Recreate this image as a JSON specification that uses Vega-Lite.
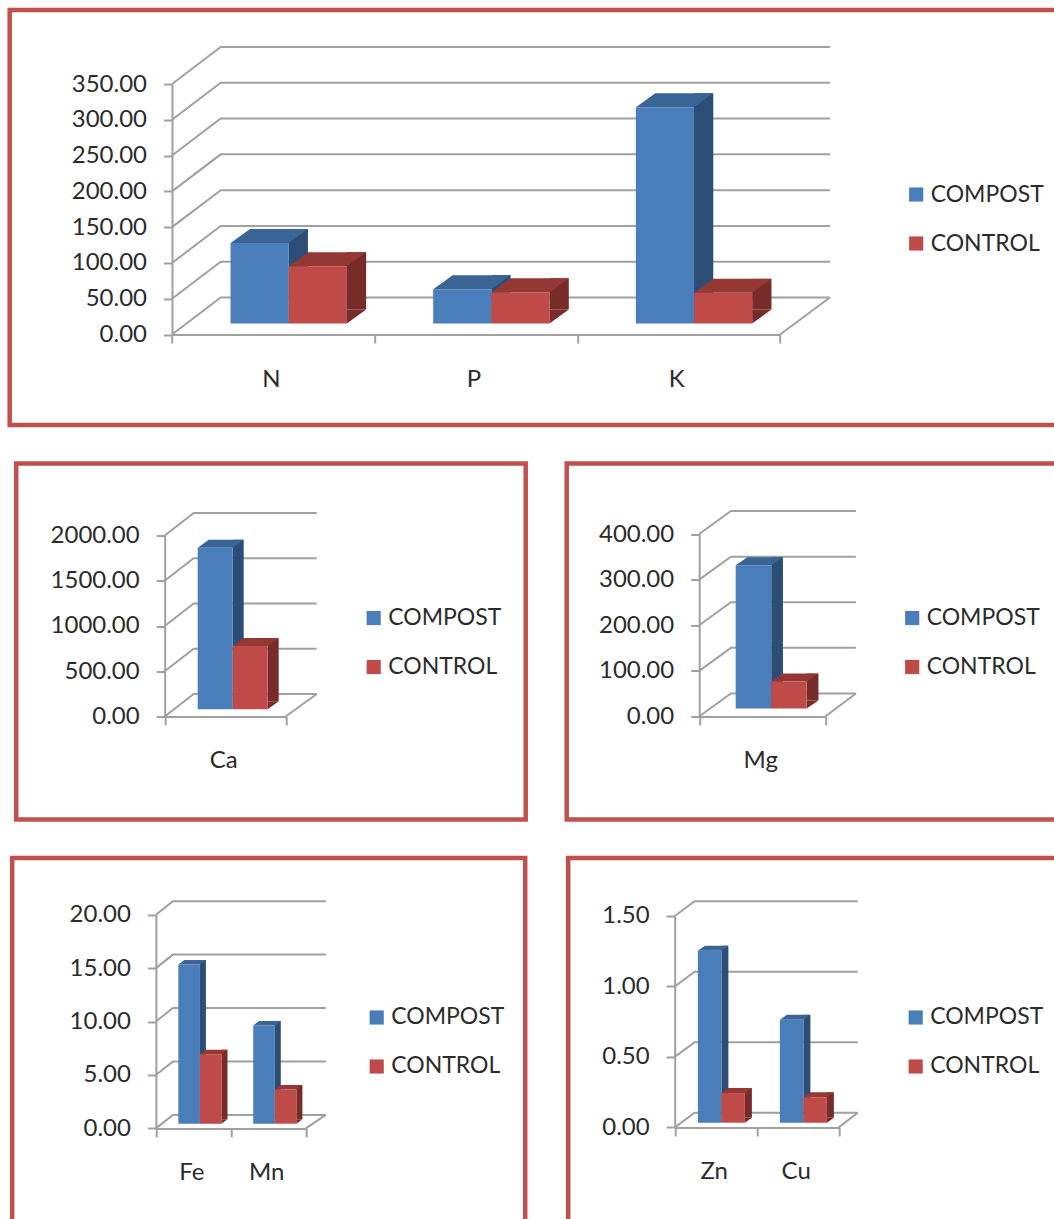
{
"$schema":"https://vega.github.io/schema/vega-lite/v6.json",
"padding":{"left":6.7,"top":7,"right":0,"bottom":0},
"background":"white",
"config":{
 "view":{"stroke":"#c0504d","strokeWidth":4.5},
 "axis":{"labelFont":"Lato","labelFontSize":24,"labelColor":"#2b2b2b","domainColor":"#a0a0a0","tickColor":"#a0a0a0","domainWidth":2,"tickWidth":2,"tickSize":8.5,"grid":false,"title":null},
 "legend":{"orient":"none","title":null,"symbolType":"square","symbolSize":200,"symbolStrokeWidth":0,"labelFont":"Lato","labelFontSize":23,"labelColor":"#2b2b2b","labelOffset":3,"rowPadding":25}
},
"datasets":{
 "macro":[{"el":"N","series":"COMPOST","value":112.6},{"el":"N","series":"CONTROL","value":80},{"el":"P","series":"COMPOST","value":48},{"el":"P","series":"CONTROL","value":43.7},{"el":"K","series":"COMPOST","value":302},{"el":"K","series":"CONTROL","value":42.8}],
 "macroTicks":[{"tick":0},{"tick":50},{"tick":100},{"tick":150},{"tick":200},{"tick":250},{"tick":300},{"tick":350}],
 "calcium":[{"el":"Ca","series":"COMPOST","value":1785},{"el":"Ca","series":"CONTROL","value":697}],
 "calciumTicks":[{"tick":0},{"tick":500},{"tick":1000},{"tick":1500},{"tick":2000}],
 "magnesium":[{"el":"Mg","series":"COMPOST","value":314},{"el":"Mg","series":"CONTROL","value":59}],
 "magnesiumTicks":[{"tick":0},{"tick":100},{"tick":200},{"tick":300},{"tick":400}],
 "ironManganese":[{"el":"Fe","series":"COMPOST","value":14.9},{"el":"Fe","series":"CONTROL","value":6.5},{"el":"Mn","series":"COMPOST","value":9.2},{"el":"Mn","series":"CONTROL","value":3.2}],
 "ironManganeseTicks":[{"tick":0},{"tick":5},{"tick":10},{"tick":15},{"tick":20}],
 "zincCopper":[{"el":"Zn","series":"COMPOST","value":1.22},{"el":"Zn","series":"CONTROL","value":0.21},{"el":"Cu","series":"COMPOST","value":0.73},{"el":"Cu","series":"CONTROL","value":0.18}],
 "zincCopperTicks":[{"tick":0},{"tick":0.5},{"tick":1},{"tick":1.5}]
},
"spacing":32.5,
"vconcat":[
 {"width":1060,"height":415,"resolve":{"scale":{"color":"independent","xOffset":"independent"}},
  "layer":[
   {"data":{"name":"macroTicks"},"mark":{"type":"point","shape":"M0,0L48.7,-37L658,-37","size":4,"filled":false,"stroke":"#a0a0a0","strokeWidth":2,"opacity":1},
    "encoding":{"x":{"datum":"N","type":"nominal","bandPosition":0,"scale":{"type":"band","domain":["N","P","K"],"range":[162.3,770.3],"padding":0}},"y":{"field":"tick","type":"quantitative","scale":{"domain":[0,350],"range":[324.5,74],"nice":false}}}},
   {"data":{"values":[{"tick":0}]},"mark":{"type":"point","shape":"M658,-37L608,0","size":4,"filled":false,"stroke":"#a0a0a0","strokeWidth":2,"opacity":1},
    "encoding":{"x":{"datum":"N","type":"nominal","bandPosition":0},"y":{"field":"tick","type":"quantitative"}}},
   {"data":{"name":"macro"},"mark":{"type":"bar","width":19.3,"yOffset":-25,"y2Offset":-25},
    "encoding":{"x":{"field":"el","type":"nominal"},"xOffset":{"field":"series","type":"nominal","scale":{"type":"band","range":[54.05,256.72],"paddingOuter":0.741,"paddingInner":0}},"y":{"field":"value","type":"quantitative","stack":null},"y2":{"datum":0},"color":{"field":"series","type":"nominal","legend":null,"scale":{"range":["#2c4d75","#772c2a"]}}}},
   {"data":{"name":"macro"},"mark":{"type":"point","shape":"M29,0L48.3,-14L29,-14Z","size":4,"filled":true,"opacity":1,"yOffset":-11},
    "encoding":{"x":{"field":"el","type":"nominal"},"xOffset":{"field":"series","type":"nominal","scale":{"type":"band","range":[15.4,218.07],"paddingOuter":0.741,"paddingInner":0}},"y":{"datum":0,"type":"quantitative"},"color":{"field":"series","type":"nominal","legend":null,"scale":{"range":["#2c4d75","#772c2a"]}}}},
   {"data":{"name":"macro"},"mark":{"type":"point","shape":"M-29,0L29,0L48.3,-14L-9.7,-14Z","size":4,"filled":true,"opacity":1,"yOffset":-11},
    "encoding":{"x":{"field":"el","type":"nominal"},"xOffset":{"field":"series","type":"nominal","scale":{"type":"band","range":[15.4,218.07],"paddingOuter":0.741,"paddingInner":0}},"y":{"field":"value","type":"quantitative"},"color":{"field":"series","type":"nominal","legend":null,"scale":{"range":["#3a6496","#953735"]}}}},
   {"data":{"name":"macro"},"mark":{"type":"bar","yOffset":-11,"y2Offset":-11},
    "encoding":{"x":{"field":"el","type":"nominal","axis":{"labelAngle":0,"labelAlign":"center","labelOffset":-2.5,"tickBand":"extent","labelPadding":36,"offset":-90.5}},"xOffset":{"field":"series","type":"nominal","scale":{"type":"band","range":[15.4,218.07],"paddingOuter":0.741,"paddingInner":0}},"y":{"field":"value","type":"quantitative","stack":null,"axis":{"values":[0,50,100,150,200,250,300,350],"format":".2f","labelPadding":17,"offset":-162.3}},"y2":{"datum":0},"color":{"field":"series","type":"nominal","scale":{"domain":["COMPOST","CONTROL"],"range":["#4a7ebb","#be4b48"]},"legend":{"legendX":895,"legendY":173}}}}
  ]},
 {"hconcat":[
  {"spacing":2.5,"hconcat":[
   {"data":{"values":[{}]},"mark":{"type":"point","opacity":0,"size":1},"width":1,"height":1,"view":{"stroke":null}},
   {"width":509.5,"height":356,"resolve":{"scale":{"color":"independent","xOffset":"independent"}},
    "layer":[
     {"data":{"name":"calciumTicks"},"mark":{"type":"point","shape":"M0,0L29,-22.5L152,-22.5","size":4,"filled":false,"stroke":"#a0a0a0","strokeWidth":2,"opacity":1},
      "encoding":{"x":{"datum":"Ca","type":"nominal","bandPosition":0,"scale":{"type":"band","domain":["Ca"],"range":[148.5,269.5],"padding":0}},"y":{"field":"tick","type":"quantitative","scale":{"domain":[0,2000],"range":[253,72],"nice":false}}}},
     {"data":{"values":[{"tick":0}]},"mark":{"type":"point","shape":"M152,-22.5L121,0","size":4,"filled":false,"stroke":"#a0a0a0","strokeWidth":2,"opacity":1},
      "encoding":{"x":{"datum":"Ca","type":"nominal","bandPosition":0},"y":{"field":"tick","type":"quantitative"}}},
     {"data":{"name":"calcium"},"mark":{"type":"bar","width":11,"yOffset":-15.3,"y2Offset":-15.3},
      "encoding":{"x":{"field":"el","type":"nominal"},"xOffset":{"field":"series","type":"nominal","scale":{"type":"band","range":[30.5,151.5],"paddingOuter":0.729,"paddingInner":0}},"y":{"field":"value","type":"quantitative","stack":null},"y2":{"datum":0},"color":{"field":"series","type":"nominal","legend":null,"scale":{"range":["#2c4d75","#772c2a"]}}}},
     {"data":{"name":"calcium"},"mark":{"type":"point","shape":"M17.5,0L28.5,-8L17.5,-8Z","size":4,"filled":true,"opacity":1,"yOffset":-7.3},
      "encoding":{"x":{"field":"el","type":"nominal"},"xOffset":{"field":"series","type":"nominal","scale":{"type":"band","range":[7.5,128.5],"paddingOuter":0.729,"paddingInner":0}},"y":{"datum":0,"type":"quantitative"},"color":{"field":"series","type":"nominal","legend":null,"scale":{"range":["#2c4d75","#772c2a"]}}}},
     {"data":{"name":"calcium"},"mark":{"type":"point","shape":"M-17.5,0L17.5,0L28.5,-8L-6.5,-8Z","size":4,"filled":true,"opacity":1,"yOffset":-7.3},
      "encoding":{"x":{"field":"el","type":"nominal"},"xOffset":{"field":"series","type":"nominal","scale":{"type":"band","range":[7.5,128.5],"paddingOuter":0.729,"paddingInner":0}},"y":{"field":"value","type":"quantitative"},"color":{"field":"series","type":"nominal","legend":null,"scale":{"range":["#3a6496","#953735"]}}}},
     {"data":{"name":"calcium"},"mark":{"type":"bar","yOffset":-7.3,"y2Offset":-7.3},
      "encoding":{"x":{"field":"el","type":"nominal","axis":{"labelAngle":0,"labelAlign":"center","labelOffset":-2,"tickBand":"extent","labelPadding":36,"offset":-103}},"xOffset":{"field":"series","type":"nominal","scale":{"type":"band","range":[7.5,128.5],"paddingOuter":0.729,"paddingInner":0}},"y":{"field":"value","type":"quantitative","stack":null,"axis":{"values":[0,500,1000,1500,2000],"format":".2f","labelPadding":17,"offset":-148.5}},"y2":{"datum":0},"color":{"field":"series","type":"nominal","scale":{"domain":["COMPOST","CONTROL"],"range":["#4a7ebb","#be4b48"]},"legend":{"legendX":346,"legendY":143}}}}
    ]}
  ]},
  {"width":520,"height":356,"resolve":{"scale":{"color":"independent","xOffset":"independent"}},
   "layer":[
    {"data":{"name":"magnesiumTicks"},"mark":{"type":"point","shape":"M0,0L31.7,-23L156.7,-23","size":4,"filled":false,"stroke":"#a0a0a0","strokeWidth":2,"opacity":1},
     "encoding":{"x":{"datum":"Mg","type":"nominal","bandPosition":0,"scale":{"type":"band","domain":["Mg"],"range":[132.5,258.5],"padding":0}},"y":{"field":"tick","type":"quantitative","scale":{"domain":[0,400],"range":[253,70.5],"nice":false}}}},
    {"data":{"values":[{"tick":0}]},"mark":{"type":"point","shape":"M156.7,-23L126,0","size":4,"filled":false,"stroke":"#a0a0a0","strokeWidth":2,"opacity":1},
     "encoding":{"x":{"datum":"Mg","type":"nominal","bandPosition":0},"y":{"field":"tick","type":"quantitative"}}},
    {"data":{"name":"magnesium"},"mark":{"type":"bar","width":11.7,"yOffset":-16,"y2Offset":-16},
     "encoding":{"x":{"field":"el","type":"nominal"},"xOffset":{"field":"series","type":"nominal","scale":{"type":"band","range":[32.65,158.65],"paddingOuter":0.775,"paddingInner":0}},"y":{"field":"value","type":"quantitative","stack":null},"y2":{"datum":0},"color":{"field":"series","type":"nominal","legend":null,"scale":{"range":["#2c4d75","#772c2a"]}}}},
    {"data":{"name":"magnesium"},"mark":{"type":"point","shape":"M17.8,0L29.5,-8L17.8,-8Z","size":4,"filled":true,"opacity":1,"yOffset":-8},
     "encoding":{"x":{"field":"el","type":"nominal"},"xOffset":{"field":"series","type":"nominal","scale":{"type":"band","range":[9,135],"paddingOuter":0.775,"paddingInner":0}},"y":{"datum":0,"type":"quantitative"},"color":{"field":"series","type":"nominal","legend":null,"scale":{"range":["#2c4d75","#772c2a"]}}}},
    {"data":{"name":"magnesium"},"mark":{"type":"point","shape":"M-17.8,0L17.8,0L29.5,-8L-6.1,-8Z","size":4,"filled":true,"opacity":1,"yOffset":-8},
     "encoding":{"x":{"field":"el","type":"nominal"},"xOffset":{"field":"series","type":"nominal","scale":{"type":"band","range":[9,135],"paddingOuter":0.775,"paddingInner":0}},"y":{"field":"value","type":"quantitative"},"color":{"field":"series","type":"nominal","legend":null,"scale":{"range":["#3a6496","#953735"]}}}},
    {"data":{"name":"magnesium"},"mark":{"type":"bar","yOffset":-8,"y2Offset":-8},
     "encoding":{"x":{"field":"el","type":"nominal","axis":{"labelAngle":0,"labelAlign":"center","labelOffset":-2,"tickBand":"extent","labelPadding":36,"offset":-103}},"xOffset":{"field":"series","type":"nominal","scale":{"type":"band","range":[9,135],"paddingOuter":0.775,"paddingInner":0}},"y":{"field":"value","type":"quantitative","stack":null,"axis":{"values":[0,100,200,300,400],"format":".2f","labelPadding":17,"offset":-132.5}},"y2":{"datum":0},"color":{"field":"series","type":"nominal","scale":{"domain":["COMPOST","CONTROL"],"range":["#4a7ebb","#be4b48"]},"legend":{"legendX":334,"legendY":143}}}}
   ]}
 ],"spacing":35},
 {"hconcat":[
  {"spacing":-1.5,"hconcat":[
   {"data":{"values":[{}]},"mark":{"type":"point","opacity":0,"size":1},"width":1,"height":1,"view":{"stroke":null}},
   {"width":513,"height":380,"resolve":{"scale":{"color":"independent","xOffset":"independent"}},
    "layer":[
     {"data":{"name":"ironManganeseTicks"},"mark":{"type":"point","shape":"M0,0L17,-13.5L170,-13.5","size":4,"filled":false,"stroke":"#a0a0a0","strokeWidth":2,"opacity":1},
      "encoding":{"x":{"datum":"Fe","type":"nominal","bandPosition":0,"scale":{"type":"band","domain":["Fe","Mn"],"range":[143.7,293.5],"padding":0}},"y":{"field":"tick","type":"quantitative","scale":{"domain":[0,20],"range":[270.4,56.7],"nice":false}}}},
     {"data":{"values":[{"tick":0}]},"mark":{"type":"point","shape":"M170,-13.5L149.8,0","size":4,"filled":false,"stroke":"#a0a0a0","strokeWidth":2,"opacity":1},
      "encoding":{"x":{"datum":"Fe","type":"nominal","bandPosition":0},"y":{"field":"tick","type":"quantitative"}}},
     {"data":{"name":"ironManganese"},"mark":{"type":"bar","width":6,"yOffset":-9.2,"y2Offset":-9.2},
      "encoding":{"x":{"field":"el","type":"nominal"},"xOffset":{"field":"series","type":"nominal","scale":{"type":"band","range":[20.35,95.25],"paddingOuter":0.733,"paddingInner":0}},"y":{"field":"value","type":"quantitative","stack":null},"y2":{"datum":0},"color":{"field":"series","type":"nominal","legend":null,"scale":{"range":["#2c4d75","#772c2a"]}}}},
     {"data":{"name":"ironManganese"},"mark":{"type":"point","shape":"M10.75,0L16.75,-4.5L10.75,-4.5Z","size":4,"filled":true,"opacity":1,"yOffset":-4.7},
      "encoding":{"x":{"field":"el","type":"nominal"},"xOffset":{"field":"series","type":"nominal","scale":{"type":"band","range":[6.6,81.5],"paddingOuter":0.733,"paddingInner":0}},"y":{"datum":0,"type":"quantitative"},"color":{"field":"series","type":"nominal","legend":null,"scale":{"range":["#2c4d75","#772c2a"]}}}},
     {"data":{"name":"ironManganese"},"mark":{"type":"point","shape":"M-10.75,0L10.75,0L16.75,-4.5L-4.75,-4.5Z","size":4,"filled":true,"opacity":1,"yOffset":-4.7},
      "encoding":{"x":{"field":"el","type":"nominal"},"xOffset":{"field":"series","type":"nominal","scale":{"type":"band","range":[6.6,81.5],"paddingOuter":0.733,"paddingInner":0}},"y":{"field":"value","type":"quantitative"},"color":{"field":"series","type":"nominal","legend":null,"scale":{"range":["#3a6496","#953735"]}}}},
     {"data":{"name":"ironManganese"},"mark":{"type":"bar","yOffset":-4.7,"y2Offset":-4.7},
      "encoding":{"x":{"field":"el","type":"nominal","axis":{"labelAngle":0,"labelAlign":"center","labelOffset":-2,"tickBand":"extent","labelPadding":36,"offset":-109.6}},"xOffset":{"field":"series","type":"nominal","scale":{"type":"band","range":[6.6,81.5],"paddingOuter":0.733,"paddingInner":0}},"y":{"field":"value","type":"quantitative","stack":null,"axis":{"values":[0,5,10,15,20],"format":".2f","labelPadding":17,"offset":-143.7}},"y2":{"datum":0},"color":{"field":"series","type":"nominal","scale":{"domain":["COMPOST","CONTROL"],"range":["#4a7ebb","#be4b48"]},"legend":{"legendX":353,"legendY":148}}}}
    ]}
  ]},
  {"width":520,"height":380,"resolve":{"scale":{"color":"independent","xOffset":"independent"}},
   "layer":[
    {"data":{"name":"zincCopperTicks"},"mark":{"type":"point","shape":"M0,0L20,-14.7L183,-14.7","size":4,"filled":false,"stroke":"#a0a0a0","strokeWidth":2,"opacity":1},
     "encoding":{"x":{"datum":"Zn","type":"nominal","bandPosition":0,"scale":{"type":"band","domain":["Zn","Cu"],"range":[106.5,270.5],"padding":0}},"y":{"field":"tick","type":"quantitative","scale":{"domain":[0,1.5],"range":[269.4,58],"nice":false}}}},
    {"data":{"values":[{"tick":0}]},"mark":{"type":"point","shape":"M183,-14.7L164,0","size":4,"filled":false,"stroke":"#a0a0a0","strokeWidth":2,"opacity":1},
     "encoding":{"x":{"datum":"Zn","type":"nominal","bandPosition":0},"y":{"field":"tick","type":"quantitative"}}},
    {"data":{"name":"zincCopper"},"mark":{"type":"bar","width":7,"yOffset":-9.7,"y2Offset":-9.7},
     "encoding":{"x":{"field":"el","type":"nominal"},"xOffset":{"field":"series","type":"nominal","scale":{"type":"band","range":[20.95,102.95],"paddingOuter":0.745,"paddingInner":0}},"y":{"field":"value","type":"quantitative","stack":null},"y2":{"datum":0},"color":{"field":"series","type":"nominal","legend":null,"scale":{"range":["#2c4d75","#772c2a"]}}}},
    {"data":{"name":"zincCopper"},"mark":{"type":"point","shape":"M11.75,0L18.75,-5L11.75,-5Z","size":4,"filled":true,"opacity":1,"yOffset":-4.7},
     "encoding":{"x":{"field":"el","type":"nominal"},"xOffset":{"field":"series","type":"nominal","scale":{"type":"band","range":[5.7,87.7],"paddingOuter":0.745,"paddingInner":0}},"y":{"datum":0,"type":"quantitative"},"color":{"field":"series","type":"nominal","legend":null,"scale":{"range":["#2c4d75","#772c2a"]}}}},
    {"data":{"name":"zincCopper"},"mark":{"type":"point","shape":"M-11.75,0L11.75,0L18.75,-5L-4.75,-5Z","size":4,"filled":true,"opacity":1,"yOffset":-4.7},
     "encoding":{"x":{"field":"el","type":"nominal"},"xOffset":{"field":"series","type":"nominal","scale":{"type":"band","range":[5.7,87.7],"paddingOuter":0.745,"paddingInner":0}},"y":{"field":"value","type":"quantitative"},"color":{"field":"series","type":"nominal","legend":null,"scale":{"range":["#3a6496","#953735"]}}}},
    {"data":{"name":"zincCopper"},"mark":{"type":"bar","yOffset":-4.7,"y2Offset":-4.7},
     "encoding":{"x":{"field":"el","type":"nominal","axis":{"labelAngle":0,"labelAlign":"center","labelOffset":-2,"tickBand":"extent","labelPadding":36,"offset":-110.6}},"xOffset":{"field":"series","type":"nominal","scale":{"type":"band","range":[5.7,87.7],"paddingOuter":0.745,"paddingInner":0}},"y":{"field":"value","type":"quantitative","stack":null,"axis":{"values":[0,0.5,1,1.5],"format":".2f","labelPadding":17,"offset":-106.5}},"y2":{"datum":0},"color":{"field":"series","type":"nominal","scale":{"domain":["COMPOST","CONTROL"],"range":["#4a7ebb","#be4b48"]},"legend":{"legendX":336,"legendY":148}}}}
   ]}
 ],"spacing":37.5}
]}
